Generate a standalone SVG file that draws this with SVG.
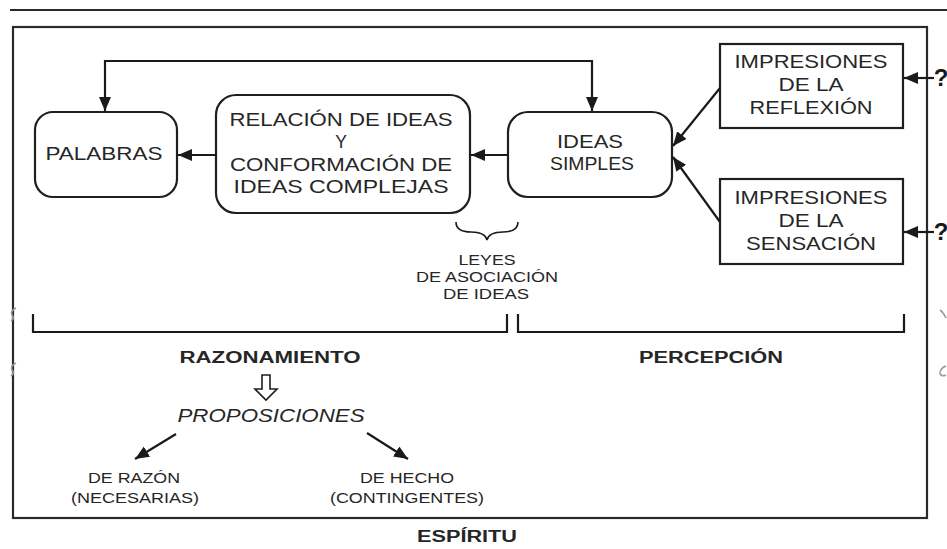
<svg xmlns="http://www.w3.org/2000/svg" width="947" height="549" viewBox="0 0 947 549">
<defs>
<marker id="ah" markerUnits="userSpaceOnUse" markerWidth="15" markerHeight="13" refX="14" refY="6" orient="auto-start-reverse">
<path d="M0,0 L14,6 L0,12 Z" fill="#1a1a1a"/>
</marker>
<style>
.frame{fill:none;stroke:#2a2a2a;stroke-width:2.2}
.box{fill:#fff;stroke:#1f1f1f;stroke-width:2.2}
.ln{fill:none;stroke:#1a1a1a;stroke-width:2.2}
.t{font-family:"Liberation Sans",Arial,sans-serif;fill:#262626;text-anchor:middle}
.b{font-size:17.5px}
.s{font-size:14px}
.bold{font-weight:bold;font-size:16px}
.it{font-style:italic;font-size:18px}
.q{font-weight:bold;font-size:24px;fill:#1a1a1a}
.sq{fill:none;stroke:#9a9a9a;stroke-width:1.6}
</style>
</defs>

<g id="top-rule"><line x1="10" y1="10" x2="947" y2="10" class="frame"/></g>
<g id="espiritu-frame">
<rect x="13" y="27" width="914" height="491" class="frame"/>
<path class="sq" d="M16,308 q-6,3 -4,7 q3,3 -1,6"/>
<path class="sq" d="M16,363 q-6,3 -4,7 q3,3 -1,6"/>
<path class="sq" d="M940,310 q3,2 6,8"/>
<path class="sq" d="M946,366 q-6,2 -6,8 q2,3 6,1"/>
</g>

<g id="palabras">
<rect x="35" y="112" width="142" height="85" rx="18" class="box"/>
<text class="t b" x="104" y="160" textLength="117" lengthAdjust="spacingAndGlyphs">PALABRAS</text>
</g>

<g id="relacion">
<rect x="216" y="95" width="254" height="118" rx="20" class="box"/>
<text class="t b" x="341" y="126" textLength="223" lengthAdjust="spacingAndGlyphs">RELACIÓN DE IDEAS</text>
<text class="t b" x="341" y="148">Y</text>
<text class="t b" x="341" y="171" textLength="222" lengthAdjust="spacingAndGlyphs">CONFORMACIÓN DE</text>
<text class="t b" x="341" y="193" textLength="215" lengthAdjust="spacingAndGlyphs">IDEAS COMPLEJAS</text>
</g>

<g id="ideas-simples">
<rect x="508" y="112" width="164" height="85" rx="20" class="box"/>
<text class="t b" x="590" y="148" textLength="66" lengthAdjust="spacingAndGlyphs">IDEAS</text>
<text class="t b" x="592" y="170" textLength="84" lengthAdjust="spacingAndGlyphs">SIMPLES</text>
</g>

<g id="impresiones-reflexion">
<rect x="720" y="44" width="183" height="84" class="box"/>
<text class="t b" x="811" y="68" textLength="153" lengthAdjust="spacingAndGlyphs">IMPRESIONES</text>
<text class="t b" x="811" y="91" textLength="65" lengthAdjust="spacingAndGlyphs">DE LA</text>
<text class="t b" x="811" y="114" textLength="123" lengthAdjust="spacingAndGlyphs">REFLEXIÓN</text>
</g>

<g id="impresiones-sensacion">
<rect x="720" y="179" width="183" height="85" class="box"/>
<text class="t b" x="811" y="204" textLength="153" lengthAdjust="spacingAndGlyphs">IMPRESIONES</text>
<text class="t b" x="811" y="227" textLength="65" lengthAdjust="spacingAndGlyphs">DE LA</text>
<text class="t b" x="811" y="250" textLength="130" lengthAdjust="spacingAndGlyphs">SENSACIÓN</text>
</g>

<g id="q1"><text class="t q" x="941" y="86">?</text></g>
<g id="q2"><text class="t q" x="941" y="240">?</text></g>

<g id="connectors">
<path class="ln" d="M105,111 V61 H592 V111" marker-start="url(#ah)" marker-end="url(#ah)"/>
<line class="ln" x1="216" y1="155" x2="178" y2="155" marker-end="url(#ah)"/>
<line class="ln" x1="508" y1="155" x2="471" y2="155" marker-end="url(#ah)"/>
<line class="ln" x1="720" y1="88" x2="673" y2="146" marker-end="url(#ah)"/>
<line class="ln" x1="720" y1="222" x2="673" y2="157" marker-end="url(#ah)"/>
<line class="ln" x1="934" y1="78" x2="904" y2="78" marker-end="url(#ah)"/>
<line class="ln" x1="934" y1="232" x2="904" y2="232" marker-end="url(#ah)"/>
<line class="ln" x1="176" y1="434" x2="135" y2="459" marker-end="url(#ah)"/>
<line class="ln" x1="367" y1="433" x2="408" y2="459" marker-end="url(#ah)"/>
</g>

<g id="leyes">
<path class="ln" style="stroke-width:1.6" d="M456,222 Q456,232 471,232 Q485,232 487,240 Q489,232 503,232 Q518,232 518,222"/>
<text class="t s" x="487" y="265" textLength="57" lengthAdjust="spacingAndGlyphs">LEYES</text>
<text class="t s" x="487" y="282" textLength="142" lengthAdjust="spacingAndGlyphs">DE ASOCIACIÓN</text>
<text class="t s" x="486" y="299" textLength="86" lengthAdjust="spacingAndGlyphs">DE IDEAS</text>
</g>

<g id="brackets">
<path class="ln" d="M33,314 V332 H507 V314"/>
<path class="ln" d="M518,314 V332 H904 V314"/>
</g>

<g id="razonamiento">
<text class="t bold" x="270" y="363" textLength="181" lengthAdjust="spacingAndGlyphs">RAZONAMIENTO</text>
<path d="M262,375 H270 V389 H277 L266,400 L255,389 H262 Z" fill="#fff" stroke="#1f1f1f" stroke-width="1.6" stroke-linejoin="miter"/>
</g>
<g id="percepcion">
<text class="t bold" x="711" y="363" textLength="144" lengthAdjust="spacingAndGlyphs">PERCEPCIÓN</text>
</g>

<g id="proposiciones">
<text class="t it" x="271" y="422" textLength="187" lengthAdjust="spacingAndGlyphs">PROPOSICIONES</text>
</g>
<g id="de-razon">
<text class="t s" x="134" y="483" textLength="92" lengthAdjust="spacingAndGlyphs">DE RAZÓN</text>
<text class="t s" x="135" y="503" textLength="128" lengthAdjust="spacingAndGlyphs">(NECESARIAS)</text>
</g>
<g id="de-hecho">
<text class="t s" x="407" y="483" textLength="94" lengthAdjust="spacingAndGlyphs">DE HECHO</text>
<text class="t s" x="407" y="503" textLength="154" lengthAdjust="spacingAndGlyphs">(CONTINGENTES)</text>
</g>
<g id="espiritu">
<text class="t bold" x="467" y="542" textLength="100" lengthAdjust="spacingAndGlyphs">ESPÍRITU</text>
</g>
</svg>
